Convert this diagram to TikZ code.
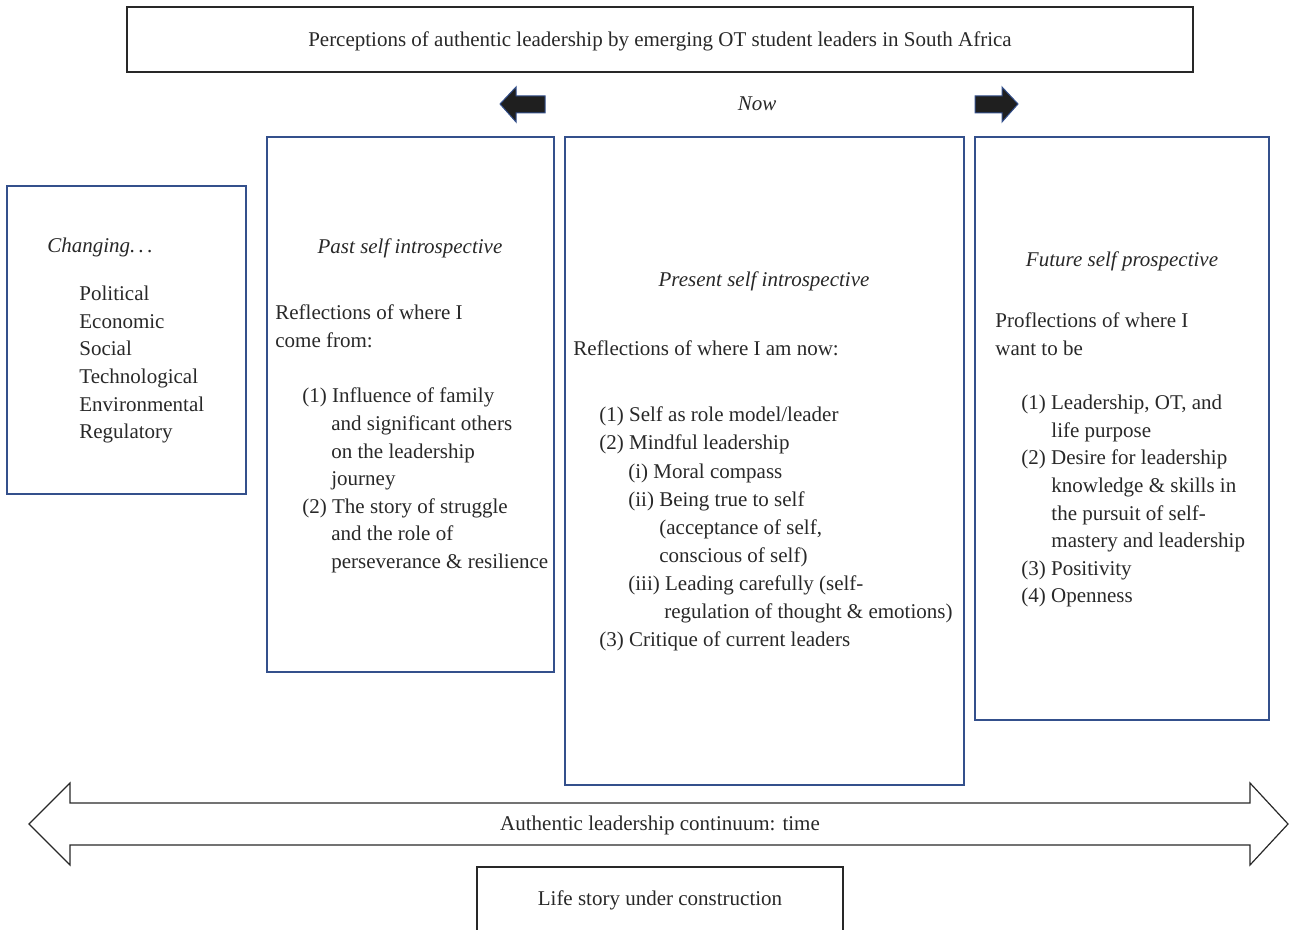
\documentclass[tikz,border=0pt]{standalone}
\usepackage{fontspec}
\setmainfont{Liberation Serif}
\definecolor{boxblue}{RGB}{52,80,140}
\definecolor{inkgray}{RGB}{40,40,40}
\newcommand{\bodyfont}{\fontsize{10.5}{13.8}\selectfont}
\tikzset{
  panel/.style={draw=boxblue, line width=0.6pt},
  plain/.style={draw=inkgray, line width=0.6pt},
  txt/.style={anchor=north west, yshift=9.66pt, inner sep=0pt, align=left, font=\bodyfont, text=inkgray, execute at begin node=\strut},
  head/.style={anchor=base, inner sep=0pt, font=\bodyfont\itshape, text=inkgray},
  label/.style={anchor=base, inner sep=0pt, font=\bodyfont, text=inkgray},
}
\begin{document}
\begin{tikzpicture}[x=0.5pt, y=-0.5pt]
	\useasboundingbox (0,0) rectangle (1289,930);
	
	% title
	\draw[plain] (127,7) rectangle (1193,72);
	\node[label] (title) at (660,47) {Perceptions of authentic leadership by emerging OT student leaders in South Africa};
	
	% now with the two black arrows
	\node[head] (nowlbl) at (757,111) {Now};
	\draw[boxblue, fill=black!88, line width=0.5pt] (500,104) -- (516,87) -- (516,96) -- (545,96) -- (545,113) -- (516,113) -- (516,122) -- cycle;
	\draw[boxblue, fill=black!88, line width=0.5pt] (1018,104) -- (1002,87) -- (1002,96) -- (975,96) -- (975,113) -- (1002,113) -- (1002,122) -- cycle;
	
	% changing context
	\draw[panel] (7,186) rectangle (246,494);
	\node[head, anchor=base west] (changing) at (47,253) {Changing.\,.\,.};
	\node[txt] (pestle) at (79,305) {Political\\Economic\\Social\\Technological\\Environmental\\Regulatory};
	
	% past
	\draw[panel] (267,137) rectangle (554,672);
	\node[head] (pasthead) at (410,254) {Past self introspective};
	\node[txt] (pastintro) at (275,324) {Reflections of where I\\come from:};
	\node[txt] (pastlist) at (302,407) {(1) Influence of family\\
		\hspace*{14.5pt}and significant others\\
		\hspace*{14.5pt}on the leadership\\
		\hspace*{14.5pt}journey\\
		(2) The story of struggle\\
		\hspace*{14.5pt}and the role of\\
		\hspace*{14.5pt}perseverance \& resilience};
	
	% present
	\draw[panel] (565,137) rectangle (964,785);
	\node[head] (presenthead) at (764,287) {Present self introspective};
	\node[txt] (presentintro) at (573,355) {Reflections of where I am now:};
	\node[txt, font=\fontsize{10.5}{14.05}\selectfont] (presentlist) at (599,426) {(1) Self as role model/leader\\
		(2) Mindful leadership\\
		\hspace*{14.5pt}(i) Moral compass\\
		\hspace*{14.5pt}(ii) Being true to self\\
		\hspace*{30pt}(acceptance of self,\\
		\hspace*{30pt}conscious of self)\\
		\hspace*{14.5pt}(iii) Leading carefully (self-\\
		\hspace*{32.5pt}regulation of thought \& emotions)\\
		(3) Critique of current leaders};
	
	% future
	\draw[panel] (975,137) rectangle (1269,720);
	\node[head] (futurehead) at (1122,267) {Future self prospective};
	\node[txt] (futureintro) at (995,332) {Proflections of where I\\want to be};
	\node[txt] (futurelist) at (1021,414) {(1) Leadership, OT, and\\
		\hspace*{15pt}life purpose\\
		(2) Desire for leadership\\
		\hspace*{15pt}knowledge \& skills in\\
		\hspace*{15pt}the pursuit of self-\\
		\hspace*{15pt}mastery and leadership\\
		(3) Positivity\\
		(4) Openness};
	
	% continuum arrow
	\draw[plain] (29,824) -- (70,783) -- (70,803) -- (1250,803) -- (1250,783) -- (1288,824)
		-- (1250,865) -- (1250,845) -- (70,845) -- (70,865) -- cycle;
	\node[label] (continuum) at (660,830) {Authentic leadership continuum: time};
	
	% life story
	\draw[plain] (477,867) rectangle (843,934);
	\node[label] (lifestory) at (660,905) {Life story under construction};
\end{tikzpicture}
\end{document}
